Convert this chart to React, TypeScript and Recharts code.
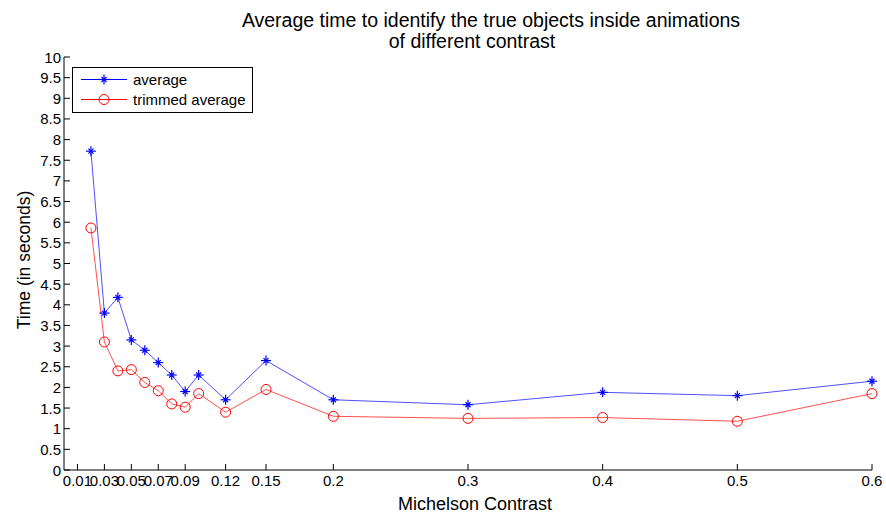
import React from 'react';
import { LineChart, Line, XAxis, YAxis } from 'recharts';

const contrast = [0.02, 0.03, 0.04, 0.05, 0.06, 0.07, 0.08, 0.09, 0.1, 0.12, 0.15, 0.2, 0.3, 0.4, 0.5, 0.6];
const average = [7.72, 3.8, 4.18, 3.15, 2.9, 2.6, 2.3, 1.9, 2.3, 1.7, 2.65, 1.7, 1.58, 1.88, 1.8, 2.15];
const trimmed = [5.86, 3.1, 2.4, 2.43, 2.12, 1.92, 1.6, 1.52, 1.85, 1.4, 1.95, 1.3, 1.25, 1.27, 1.18, 1.85];
const xTicks = [0.01, 0.03, 0.05, 0.07, 0.09, 0.12, 0.15, 0.2, 0.3, 0.4, 0.5, 0.6];
const yTicks = [0, 0.5, 1, 1.5, 2, 2.5, 3, 3.5, 4, 4.5, 5, 5.5, 6, 6.5, 7, 7.5, 8, 8.5, 9, 9.5, 10];

const data = contrast.map((c, i) => ({ x: c, average: average[i], trimmed: trimmed[i] }));

const FONT = "'Liberation Sans', Arial, sans-serif";
const BLUE = '#0000ff';
const RED = '#ff0000';

const XTick = (props: any) => {
  const { x, y, payload } = props;
  return (
    <g>
      <line x1={x} x2={x} y1={y} y2={y - 6} stroke="#000" />
      <text x={x} y={y + 16} textAnchor="middle" fontSize={15} fontFamily={FONT} fill="#000">
        {payload.value}
      </text>
    </g>
  );
};

const YTick = (props: any) => {
  const { x, y, payload } = props;
  return (
    <g>
      <line x1={x} x2={x + 6} y1={y} y2={y} stroke="#000" />
      <text x={x - 3} y={y + 5.5} textAnchor="end" fontSize={15} fontFamily={FONT} fill="#000">
        {payload.value}
      </text>
    </g>
  );
};

const StarDot = (props: any) => {
  const { cx, cy, index } = props;
  if (cx == null || cy == null) return <g key={`s${index}`} />;
  return (
    <g key={`s${index}`} stroke={BLUE} strokeWidth={1.2}>
      <line x1={cx - 5} x2={cx + 5} y1={cy} y2={cy} />
      <line x1={cx} x2={cx} y1={cy - 5} y2={cy + 5} />
      <line x1={cx - 2.5} x2={cx + 2.5} y1={cy - 2.5} y2={cy + 2.5} />
      <line x1={cx - 2.5} x2={cx + 2.5} y1={cy + 2.5} y2={cy - 2.5} />
    </g>
  );
};

const CircleDot = (props: any) => {
  const { cx, cy, index } = props;
  if (cx == null || cy == null) return <g key={`c${index}`} />;
  return <circle key={`c${index}`} cx={cx} cy={cy} r={5} fill="none" stroke={RED} strokeWidth={1} />;
};

export default function App() {
  return (
    <div style={{ position: 'absolute', left: 0, top: 0, width: 886, height: 515, background: '#fff', fontFamily: FONT }}>
      <LineChart
        width={886}
        height={515}
        data={data}
        margin={{ top: 57, right: 14, bottom: 15, left: 0 }}
      >
        <XAxis
          type="number"
          dataKey="x"
          domain={[0, 0.6]}
          ticks={xTicks}
          interval={0}
          tickSize={0}
          tickMargin={0}
          tick={<XTick />}
          axisLine={{ stroke: '#000' }}
          tickLine={false}
          height={30}
        />
        <YAxis
          type="number"
          domain={[0, 10]}
          ticks={yTicks}
          interval={0}
          tickSize={0}
          tickMargin={0}
          tick={<YTick />}
          axisLine={{ stroke: '#000' }}
          tickLine={false}
          width={64}
        />
        <Line
          type="linear"
          dataKey="average"
          stroke="#5050ff"
          strokeWidth={1}
          dot={<StarDot />}
          isAnimationActive={false}
        />
        <Line
          type="linear"
          dataKey="trimmed"
          stroke="#ff5050"
          strokeWidth={1}
          dot={<CircleDot />}
          isAnimationActive={false}
        />
      </LineChart>
      <svg width={886} height={515} style={{ position: 'absolute', left: 0, top: 0, pointerEvents: 'none' }}>
        <text x={491} y={27} textAnchor="middle" fontSize={19.5} fontFamily={FONT} fill="#000">
          Average time to identify the true objects inside animations
        </text>
        <text x={472} y={48} textAnchor="middle" fontSize={19.5} fontFamily={FONT} fill="#000">
          of different contrast
        </text>
        <text x={475} y={510} textAnchor="middle" fontSize={18} fontFamily={FONT} fill="#000">
          Michelson Contrast
        </text>
        <text
          x={30}
          y={260}
          textAnchor="middle"
          fontSize={17.5}
          fontFamily={FONT}
          fill="#000"
          transform="rotate(-90 30 260)"
        >
          Time (in seconds)
        </text>
        <g>
          <rect x={72.5} y={67.5} width={180} height={45} fill="#fff" stroke="#000" />
          <line x1={81} x2={127} y1={79.5} y2={79.5} stroke={BLUE} />
          <StarDot cx={104} cy={79.5} index={100} />
          <text x={133} y={85} fontSize={15} fontFamily={FONT} fill="#000">average</text>
          <line x1={81} x2={127} y1={99.5} y2={99.5} stroke={RED} />
          <CircleDot cx={104} cy={99.5} index={101} />
          <text x={133} y={105} fontSize={15} fontFamily={FONT} fill="#000">trimmed average</text>
        </g>
      </svg>
    </div>
  );
}
